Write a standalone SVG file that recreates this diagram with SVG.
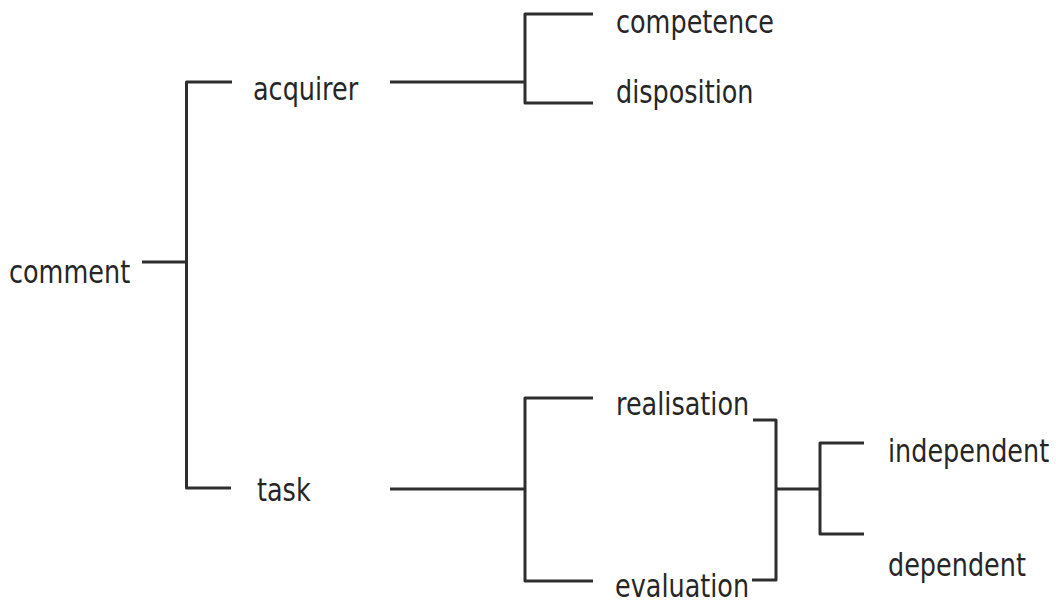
<svg xmlns="http://www.w3.org/2000/svg" width="1056" height="603" viewBox="0 0 1056 603">
  <style>
    .lbl { font-family: "DejaVu Sans", Verdana, sans-serif; font-size: 25.5px; fill: #262626; }
    .ln { fill: none; stroke: #2e2e2e; stroke-width: 3; stroke-linejoin: round; stroke-linecap: butt; }
  </style>
  <rect width="1056" height="603" fill="#ffffff"/>

  <!-- bracket connectors of the classification tree -->
  <g id="connectors" class="ln">
    <path d="M142 262 H187"/>
    <path d="M232 82 H186.5 V488 H231"/>
    <path d="M390 82 H525"/>
    <path d="M593 14 H525 V103 H593"/>
    <path d="M390 489 H525"/>
    <path d="M593 398 H525 V581 H593"/>
    <path d="M753 420 H776 V580 H752"/>
    <path d="M776 489 H820"/>
    <path d="M864 443 H820 V534 H864"/>
  </g>

  <!-- term labels, drawn slightly tall -->
  <g id="comment"><text class="lbl" transform="translate(9 283) scale(1 1.22)">comment</text></g>
  <g id="acquirer"><text class="lbl" transform="translate(253 100) scale(1 1.22)">acquirer</text></g>
  <g id="competence"><text class="lbl" transform="translate(616 33) scale(1 1.22)">competence</text></g>
  <g id="disposition"><text class="lbl" transform="translate(616 103) scale(1 1.22)">disposition</text></g>
  <g id="task"><text class="lbl" transform="translate(257 501) scale(1 1.22)">task</text></g>
  <g id="realisation"><text class="lbl" transform="translate(616 415) scale(1 1.22)">realisation</text></g>
  <g id="evaluation"><text class="lbl" transform="translate(615 597) scale(1 1.22)">evaluation</text></g>
  <g id="independent"><text class="lbl" transform="translate(888 462) scale(1 1.22)">independent</text></g>
  <g id="dependent"><text class="lbl" transform="translate(888 576) scale(1 1.22)">dependent</text></g>
</svg>
